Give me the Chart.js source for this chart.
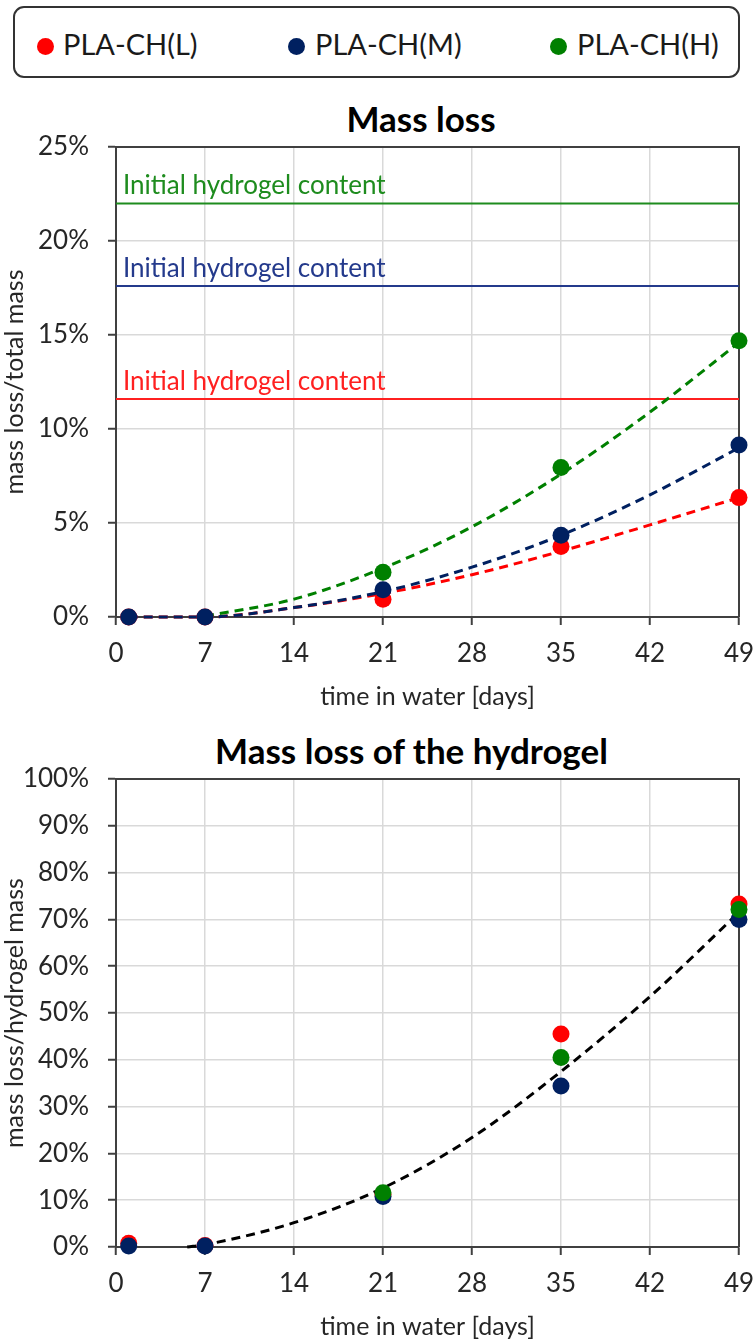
<!DOCTYPE html>
<html><head><meta charset="utf-8">
<script src="https://cdn.jsdelivr.net/npm/chart.js@4/dist/chart.umd.min.js"></script>
<style>
html,body{margin:0;padding:0;background:#fff;}
#page{position:relative;width:753px;height:1340px;overflow:hidden;font-family:Lato,'Open Sans',sans-serif;color:#262626;}
#legend{position:absolute;left:13px;top:6px;width:723px;height:68px;border:2px solid #333;border-radius:11px;}
.dot{position:absolute;width:17px;height:17px;border-radius:50%;}
.ltxt{position:absolute;font-size:29px;line-height:36px;white-space:nowrap;color:#1a1a1a;}
.ctitle{position:absolute;left:0;text-align:center;font-weight:bold;font-size:35px;line-height:40px;color:#000;white-space:nowrap;}
.cwrap{position:absolute;left:0;width:753px;height:580px;}
</style></head>
<body><div id="page">
<div id="legend"></div>
<div class="ctitle" id="t1" style="top:98px;width:842px;"></div>
<div class="cwrap" style="top:130px;"><canvas id="c1" width="753" height="580"></canvas></div>
<div class="ctitle" id="t2" style="top:730px;width:823px;"></div>
<div class="cwrap" style="top:760px;"><canvas id="c2" width="753" height="580"></canvas></div>
</div>
<script>
// ---- data ----
const seriesNames = ['PLA-CH(L)', 'PLA-CH(M)', 'PLA-CH(H)'];
const seriesColors = ['#ff0000', '#002060', '#008000'];
const lineColors = ['#ff2020', '#243a8c', '#1e8c1e'];
const titles = ['Mass loss', 'Mass loss of the hydrogel'];
const xTitle = 'time in water [days]';
const yTitles = ['mass loss/total mass', 'mass loss/hydrogel mass'];
const hydrogelLabel = 'Initial hydrogel content';

const days = [1, 7, 21, 35, 49];
const xTicks = [0, 7, 14, 21, 28, 35, 42, 49];
const yTicksTop = [0, 5, 10, 15, 20, 25];
const yTicksBottom = [0, 10, 20, 30, 40, 50, 60, 70, 80, 90, 100];

// top chart: mass loss / total mass [%]
const massLossL = [0, 0, 0.95, 3.75, 6.35];
const massLossM = [0, 0, 1.45, 4.35, 9.15];
const massLossH = [null, null, 2.38, 7.95, 14.7];
const hydrogelContent = [11.6, 17.6, 22.0]; // L, M, H
const hydrogelSpan = [0, 49];

// top chart trend curves
const trendDaysLM = [1, 7, 14, 21, 28, 35, 42, 49];
const trendL = [0, 0, 0.5, 1.25, 2.25, 3.5, 4.9, 6.35];
const trendM = [0, 0, 0.5, 1.35, 2.65, 4.35, 6.5, 9.0];
const trendDaysH = [7, 14, 21, 28, 35, 42, 49];
const trendH = [0.05, 0.95, 2.6, 4.8, 7.6, 10.9, 14.6];

// bottom chart: mass loss / hydrogel mass [%]
const gelLossL = [0.8, 0.3, 11.2, 45.5, 73.3];
const gelLossM = [0.2, 0.2, 10.8, 34.4, 70.0];
const gelLossH = [null, null, 11.6, 40.5, 72.1];
const trendAllDays = [5.6, 7, 14, 21, 28, 35, 42, 49];
const trendAll = [0, 0.5, 5.2, 12.6, 23.4, 37.5, 53.5, 71.5];

// ---- legend & titles ----
const legend = document.getElementById('legend');
const dotX = [45, 296, 558], txtX = [63, 315, 577];
seriesNames.forEach((n, i) => {
  const d = document.createElement('div'); d.className = 'dot';
  d.style.left = (dotX[i] - 8.5 - 15) + 'px'; d.style.top = (46 - 8.5 - 8) + 'px';
  d.style.background = seriesColors[i]; legend.appendChild(d);
  const t = document.createElement('div'); t.className = 'ltxt';
  t.style.left = (txtX[i] - 15) + 'px'; t.style.top = (44 - 18 - 8) + 'px';
  t.textContent = n; legend.appendChild(t);
});
document.getElementById('t1').textContent = titles[0];
document.getElementById('t2').textContent = titles[1];

// ---- helpers ----
const FONT = "Lato, 'Open Sans', sans-serif";
const pts = (xs, ys) => xs.map((x, i) => ({x, y: ys[i]}));

const framePlugin = {
  id: 'frame',
  beforeDatasetsDraw(chart) {
    const {ctx, chartArea: a} = chart;
    ctx.save();
    ctx.strokeStyle = '#404040'; ctx.lineWidth = 2;
    ctx.beginPath();
    ctx.moveTo(a.left, a.top); ctx.lineTo(a.right, a.top); ctx.lineTo(a.right, a.bottom);
    ctx.stroke();
    ctx.restore();
  }
};

const labelPlugin = {
  id: 'hydroLabels',
  afterDatasetsDraw(chart) {
    if (chart.canvas.id !== 'c1') return;
    const {ctx, chartArea: a, scales: {y}} = chart;
    ctx.save();
    ctx.font = "26px " + FONT;
    ctx.textBaseline = 'alphabetic'; ctx.textAlign = 'left';
    hydrogelContent.forEach((v, i) => {
      ctx.fillStyle = lineColors[i];
      ctx.fillText(hydrogelLabel, a.left + 7, y.getPixelForValue(v) - 9);
    });
    ctx.restore();
  }
};

function scales(yTicks, yTitle, yMax) {
  return {
    x: {
      type: 'linear', min: 0, max: 49,
      afterBuildTicks: s => { s.ticks = xTicks.map(v => ({value: v})); },
      afterFit: s => { s.height = 93; s.paddingLeft = 0; s.paddingRight = 0; },
      ticks: {color: '#262626', font: {family: FONT, size: 26, lineHeight: 1.2}, padding: 13, autoSkip: false, maxRotation: 0},
      grid: {color: '#d9d9d9', lineWidth: 1.5, tickLength: 8, tickColor: '#404040', tickWidth: 2},
      border: {color: '#404040', width: 2},
      title: {display: true, text: xTitle, color: '#262626', font: {family: FONT, size: 25, lineHeight: 1.2}, padding: {top: 0, bottom: -2}}
    },
    y: {
      min: 0, max: yMax,
      afterBuildTicks: s => { s.ticks = yTicks.map(v => ({value: v})); },
      afterFit: s => { s.width = 116; s.paddingTop = 0; s.paddingBottom = 0; },
      ticks: {color: '#262626', font: {family: FONT, size: 26, lineHeight: 1.2}, padding: 19, callback: v => v + '%'},
      grid: {color: '#d9d9d9', lineWidth: 1.5, tickLength: 8, tickColor: '#404040', tickWidth: 2},
      border: {color: '#404040', width: 2},
      title: {display: true, text: yTitle, color: '#262626', font: {family: FONT, size: 25, lineHeight: 1.2}, padding: {top: 0, bottom: 0}}
    }
  };
}

function markerDS(label, data, color, order) {
  return {label, data: pts(days, data), backgroundColor: color, borderColor: color,
    pointRadius: 8.5, pointHoverRadius: 8.5, borderWidth: 0, showLine: false, clip: false, order};
}
function trendDS(xs, ys, color, order) {
  return {data: pts(xs, ys), borderColor: color, backgroundColor: color, showLine: true,
    borderDash: [9, 6], borderWidth: 3, pointRadius: 0, cubicInterpolationMode: 'monotone', clip: false, order};
}
function flatDS(v, color, order) {
  return {data: pts(hydrogelSpan, [v, v]), borderColor: color, showLine: true, borderWidth: 2,
    pointRadius: 0, clip: false, order};
}

const common = {
  responsive: false, animation: false, devicePixelRatio: 1,
  plugins: {legend: {display: false}, tooltip: {enabled: false}, title: {display: false}},
  events: []
};

new Chart(document.getElementById('c1'), {
  type: 'scatter',
  data: {datasets: [
    markerDS(seriesNames[2], massLossH, seriesColors[2], 1),
    markerDS(seriesNames[1], massLossM, seriesColors[1], 2),
    markerDS(seriesNames[0], massLossL, seriesColors[0], 3),
    trendDS(trendDaysH, trendH, seriesColors[2], 4),
    trendDS(trendDaysLM, trendM, seriesColors[1], 5),
    trendDS(trendDaysLM, trendL, seriesColors[0], 6),
    flatDS(hydrogelContent[2], lineColors[2], 7),
    flatDS(hydrogelContent[1], lineColors[1], 8),
    flatDS(hydrogelContent[0], lineColors[0], 9)
  ]},
  options: Object.assign({}, common, {
    layout: {padding: {top: 17, right: 14, left: 0, bottom: 0}},
    scales: scales(yTicksTop, yTitles[0], 25)
  }),
  plugins: [framePlugin, labelPlugin]
});

new Chart(document.getElementById('c2'), {
  type: 'scatter',
  data: {datasets: [
    markerDS(seriesNames[2], gelLossH, seriesColors[2], 1),
    markerDS(seriesNames[1], gelLossM, seriesColors[1], 2),
    markerDS(seriesNames[0], gelLossL, seriesColors[0], 3),
    trendDS(trendAllDays, trendAll, '#000000', 4)
  ]},
  options: Object.assign({}, common, {
    layout: {padding: {top: 19, right: 14, left: 0, bottom: 0}},
    scales: scales(yTicksBottom, yTitles[1], 100)
  }),
  plugins: [framePlugin]
});
</script>
</body></html>
